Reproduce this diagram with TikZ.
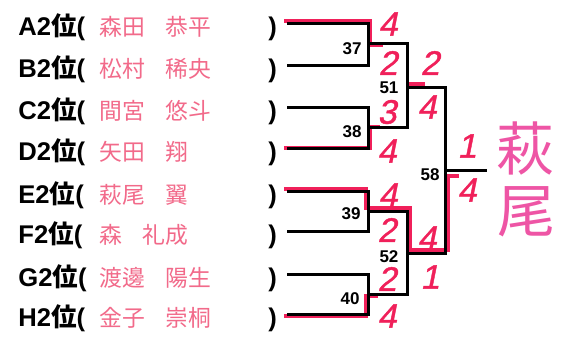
\documentclass[tikz,border=0pt]{standalone}
\usepackage{fontspec}
\usepackage{tikz}
\setmainfont{Liberation Sans}
\newfontfamily\jp{Noto Sans CJK JP}
\newfontfamily\hand[FakeSlant=0.2,FakeBold=1.2]{Liberation Sans}
\definecolor{namepink}{HTML}{F26A8A}
\definecolor{scorered}{HTML}{F0205A}
\definecolor{hagipink}{HTML}{EE55A5}

\begin{document}
\begin{tikzpicture}[x=0.5pt,y=-0.5pt,
  rank/.style={anchor=base west,inner sep=0pt,font=\fontsize{12.8}{14}\selectfont\bfseries},
  player/.style={anchor=base west,inner sep=0pt,text=namepink,font=\jp\fontsize{11.4}{13}\selectfont},
  paren/.style={anchor=base west,inner sep=0pt,font=\fontsize{12.8}{14}\selectfont\bfseries},
  game/.style={inner sep=0pt,font=\fontsize{8.5}{10}\selectfont\bfseries},
  score/.style={inner sep=0pt,text=scorered,font=\hand\fontsize{17}{18}\selectfont},
  winner/.style={inner sep=0pt,text=hagipink,font=\jp\fontsize{29}{30}\selectfont},
  bk/.style={line width=1.5pt},
  rd/.style={scorered,line width=1.6pt}]
\fill[white] (0,0) rectangle (564,338);
\useasboundingbox (0,0) rectangle (564,338);

% seeds
\node [rank] (la) at(18,35){A2{\jp 位}(};
\node [player] (na) at(99,35){森田\hspace{0.9em}恭平};
\node [paren] (pa) at(268,35){)};
\node [rank] (lb) at(18,77){B2{\jp 位}(};
\node [player] (nb) at(99,77){松村\hspace{0.9em}稀央};
\node [paren] (pb) at(268,77){)};
\node [rank] (lc) at(18,119){C2{\jp 位}(};
\node [player] (nc) at(99,119){間宮\hspace{0.9em}悠斗};
\node [paren] (pc) at(268,119){)};
\node [rank] (ld) at(18,160){D2{\jp 位}(};
\node [player] (nd) at(99,160){矢田\hspace{0.9em}翔};
\node [paren] (pd) at(268,160){)};
\node [rank] (le) at(18,203){E2{\jp 位}(};
\node [player] (ne) at(99,203){萩尾\hspace{0.9em}翼};
\node [paren] (pe) at(268,203){)};
\node [rank] (lf) at(18,243){F2{\jp 位}(};
\node [player] (nf) at(99,243){森\hspace{0.9em}礼成};
\node [paren] (pf) at(268,243){)};
\node [rank] (lg) at(18,286){G2{\jp 位}(};
\node [player] (ng) at(99,286){渡邊\hspace{0.9em}陽生};
\node [paren] (pg) at(268,286){)};
\node [rank] (lh) at(18,326){H2{\jp 位}(};
\node [player] (nh) at(99,326){金子\hspace{0.9em}崇桐};
\node [paren] (ph) at(268,326){)};

% line starts and joints
\coordinate (sa) at(287,23);
\coordinate (sb) at(287,65);
\coordinate (sc) at(287,107);
\coordinate (sd) at(287,148);
\coordinate (se) at(287,191);
\coordinate (sf) at(287,231);
\coordinate (sg) at(287,274);
\coordinate (sh) at(287,314);
\coordinate (v37) at(368,43);
\coordinate (v38) at(368,127);
\coordinate (v39) at(368,211);
\coordinate (v40) at(368,294);
\coordinate (v51) at(407,87);
\coordinate (v52) at(407,253);
\coordinate (v58) at(445,170);
\coordinate (champ) at(487,170);

% red winner marks
\draw[rd] ([shift={(-3,-2)}]sa) -| ([shift={(2,2)}]v37) -- ([shift={(15,2)}]v37);
\draw[rd] ([shift={(-3,0)}]sd) -| ([shift={(2,0)}]v38) -- ([shift={(12,0)}]v38);
\draw[rd] ([shift={(0,-3)}]v51) -- ([shift={(18,-3)}]v51);
\draw[rd] ([shift={(-3,-2)}]se) -| ([shift={(-2,-3)}]v39) -| ([shift={(3,-3)}]v52) -| ([shift={(3,6)}]v58) -- ([shift={(14,6)}]v58);
\draw[rd] ([shift={(-3,2)}]sh) -| ([shift={(-2,2)}]v40) -- ([shift={(10,2)}]v40);

% bracket
\draw[bk] (sa) -| (v37) |- (sb);
\draw[bk] (sc) -| (v38) |- (sd);
\draw[bk] (se) -| (v39) |- (sf);
\draw[bk] (sg) -| (v40) |- (sh);
\draw[bk] (v37) -| (v51) |- (v38);
\draw[bk] (v39) -| (v52) |- (v40);
\draw[bk] (v51) -| (v58) |- (v52);
\draw[bk] (v58) -- (champ);

% game numbers
\node [game,anchor=east] (g37) at(362,49){37};
\node [game,anchor=east] (g38) at(362,132){38};
\node [game,anchor=east] (g39) at(361,214){39};
\node [game,anchor=east] (g40) at(360,299){40};
\node [game] (g51) at(389,88){51};
\node [game] (g52) at(389,257){52};
\node [game,anchor=east] (g58) at(440,175){58};

% scores
\node [score] (ka) at(388,24){4};
\node [score] (kb) at(388,63){2};
\node [score] (kc) at(387,112){3};
\node [score] (kd) at(387,151){4};
\node [score] (ke) at(388,195){4};
\node [score] (kf) at(387,230){2};
\node [score] (kg) at(387,279){2};
\node [score] (kh) at(387,316){4};
\node [score] (k51a) at(430,63){2};
\node [score] (k51b) at(427,107){4};
\node [score] (k52a) at(427,238){4};
\node [score] (k52b) at(430,277){1};
\node [score] (k58a) at(467,146){1};
\node [score] (k58b) at(467,190){4};

% winner
\node [winner] (hagi) at(525,148){萩};
\node [winner] (o) at(526,212){尾};

\end{tikzpicture}
\end{document}
